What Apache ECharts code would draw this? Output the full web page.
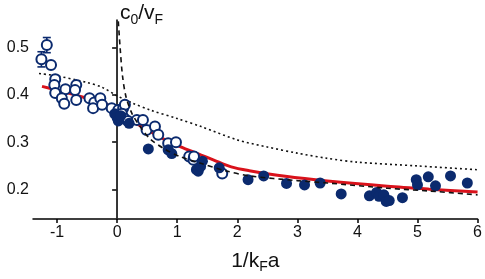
<!DOCTYPE html>
<html><head><meta charset="utf-8">
<script src="https://cdn.jsdelivr.net/npm/echarts@6/dist/echarts.min.js"></script>
<style>html,body{margin:0;padding:0;background:#fff}#c{width:485px;height:279px}</style>
</head><body><div id="c"></div>
<script>
const xTicks = [-1, 0, 1, 2, 3, 4, 5, 6];
const yTicks = [0.2, 0.3, 0.4, 0.5];

const openPts = [
[-1.17,0.505],[-1.26,0.475],[-1.10,0.463],[-1.03,0.433],[-1.045,0.421],[-1.03,0.404],[-0.86,0.412],[-0.92,0.393],[-0.88,0.381],
[-0.68,0.421],[-0.70,0.41],[-0.68,0.389],[-0.46,0.393],[-0.38,0.384],[-0.28,0.393],[-0.40,0.372],[-0.25,0.379],[-0.09,0.372],
[0.02,0.368],[0.10,0.372],[0.13,0.379],[0.08,0.36],[0.12,0.35],[0.18,0.345],[0.33,0.347],[0.43,0.347],[0.49,0.326],[0.63,0.333],
[0.685,0.316],[0.85,0.298],[0.98,0.30],[1.2,0.27],[1.27,0.263],[1.28,0.27],[1.75,0.234]
];
const filledPts = [
[-0.04,0.36],[0.0,0.352],[0.02,0.345],[0.06,0.356],[0.2,0.34],[0.52,0.286],[0.85,0.284],[0.91,0.276],[1.32,0.242],[1.35,0.239],
[1.39,0.249],[1.42,0.26],[1.70,0.246],[2.18,0.221],[2.44,0.229],[2.82,0.213],[3.12,0.21],[3.38,0.214],[3.73,0.191],[4.20,0.187],
[4.32,0.194],[4.36,0.186],[4.44,0.189],[4.48,0.175],[4.53,0.177],[4.75,0.183],[4.98,0.221],[5.00,0.21],[5.18,0.227],[5.30,0.208],
[5.55,0.229],[5.83,0.214]
];
// error bars: [x, low, high]
const errBars = [[-1.17,0.489,0.521],[-1.26,0.459,0.491],[-1.10,0.457,0.469],[-1.03,0.425,0.441]];

const redLine = [[-1.25,0.418],[-1.0,0.41],[-0.5,0.393],[-0.25,0.385],[0,0.366],[0.25,0.345],[0.55,0.323],[0.8,0.305],[1.1,0.288],
[1.4,0.273],[1.6,0.263],[1.9,0.248],[2.2,0.24],[2.8,0.228],[3.5,0.218],[4.5,0.207],[5.2,0.201],[6.0,0.195]];
const dottedLine = [[-1.3,0.445],[-1,0.44],[-0.5,0.426],[-0.25,0.416],[0,0.398],[0.25,0.383],[0.55,0.368],[1,0.35],[1.4,0.333],
[2,0.305],[2.5,0.29],[3,0.277],[3.5,0.266],[4,0.258],[5,0.25],[6,0.242]];
const dashedLine = [[0.02,0.555],[0.05,0.5],[0.09,0.44],[0.15,0.395],[0.25,0.36],[0.4,0.33],[0.55,0.307],[0.8,0.285],[1.04,0.27],
[1.38,0.256],[1.8,0.24],[2.2,0.229],[3,0.219],[3.5,0.214],[4.5,0.203],[5.2,0.197],[6,0.189]];
const zeroLine = [[0,0.138],[0,0.558]];

const navy = '#0b2a6e';
const chart = echarts.init(document.getElementById('c'));
chart.setOption({
  animation: false,
  grid: {left: 33, right: 6, top: 20, bottom: 60},
  xAxis: {
    type: 'value', min: -1.4, max: 6,
    splitLine: {show: false},
    axisLine: {lineStyle: {color: '#000', width: 1.5}},
    axisTick: {length: 4, lineStyle: {color: '#000', width: 1.5}, customValues: xTicks},
    axisLabel: {color: '#111', fontSize: 16, fontFamily: 'Liberation Sans', margin: 6, customValues: xTicks},
    name: '1/k{s|F}a', nameLocation: 'middle', nameGap: 30,
    nameTextStyle: {color: '#111', fontSize: 21, fontFamily: 'Liberation Sans',
      rich: {s: {fontSize: 14, verticalAlign: 'bottom', padding: [11,0,0,0], fontFamily: 'Liberation Sans', color: '#111'}}}
  },
  yAxis: {
    type: 'value', min: 0.138, max: 0.558,
    splitLine: {show: false},
    axisLine: {show: true, lineStyle: {color: '#000', width: 1.5}},
    axisTick: {show: true, length: 5, lineStyle: {color: '#000', width: 1.5}, customValues: yTicks},
    axisLabel: {color: '#111', fontSize: 16, fontFamily: 'Liberation Sans', margin: 4, customValues: yTicks,
      formatter: v => v.toFixed(1)}
  },
  graphic: [{
    type: 'text', left: 120, top: 3,
    style: {text: 'c{s|0}/v{s|F}', fontSize: 21, fontFamily: 'Liberation Sans', fill: '#111',
      rich: {s: {fontSize: 14, fontFamily: 'Liberation Sans', padding: [13,0,0,0], fill: '#111'}}}
  }],
  series: [
    {type: 'line', data: zeroLine, symbol: 'none', lineStyle: {color: '#333', width: 1.5}, z: 1},
    {type: 'line', data: dottedLine, symbol: 'none', smooth: 0.3, lineStyle: {color: '#111', width: 1.6, type: [2, 3]}, z: 2},
    {type: 'line', data: redLine, symbol: 'none', smooth: 0.3, lineStyle: {color: '#d9121b', width: 3}, z: 2},
    {type: 'custom', z: 3,
      renderItem: (params, api) => {
        const p1 = api.coord([api.value(0), api.value(1)]);
        const p2 = api.coord([api.value(0), api.value(2)]);
        const w = 4;
        const st = {stroke: navy, lineWidth: 1.6};
        return {type: 'group', children: [
          {type: 'line', shape: {x1: p1[0], y1: p1[1], x2: p2[0], y2: p2[1]}, style: st},
          {type: 'line', shape: {x1: p1[0]-w, y1: p1[1], x2: p1[0]+w, y2: p1[1]}, style: st},
          {type: 'line', shape: {x1: p2[0]-w, y1: p2[1], x2: p2[0]+w, y2: p2[1]}, style: st}
        ]};
      },
      data: errBars},
    {type: 'scatter', data: openPts, symbolSize: 10, z: 4,
      itemStyle: {color: '#fff', borderColor: navy, borderWidth: 2, opacity: 1}},
    {type: 'scatter', data: filledPts, symbolSize: 11, z: 5, itemStyle: {color: navy, opacity: 1}},
    {type: 'line', data: dashedLine, symbol: 'none', smooth: 0.3, lineStyle: {color: '#111', width: 1.6, type: [5, 4]}, z: 6}
  ]
});
</script></body></html>
